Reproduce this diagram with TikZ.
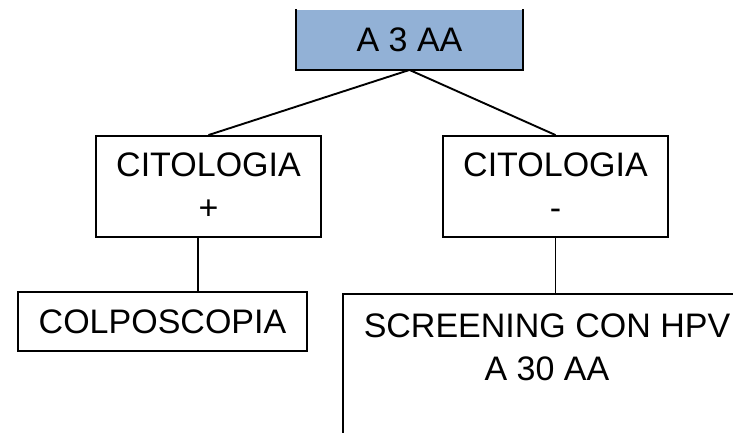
\documentclass[tikz,border=0pt]{standalone}
\usepackage{fontspec}
\setmainfont{Liberation Sans}
\usepackage{xcolor}
\usetikzlibrary{positioning}
\definecolor{topblue}{HTML}{92B1D6}

\begin{document}
\begin{tikzpicture}[x=1pt, y=-1pt,
  box/.style={draw, line width=1.9pt, inner sep=0pt, align=center, font=\fontsize{34}{43}\selectfont},
  boxtext/.style={inner sep=0pt, align=center, font=\fontsize{34}{43}\selectfont},
  link/.style={line width=1.9pt}]
\useasboundingbox (0,0) rectangle (733,433);
\clip (0,0) rectangle (733,433);

\node[box, draw=none, fill=topblue, minimum width=225pt, minimum height=59pt] (top) at (409.5,39.5) {A 3 AA};
\draw[link] (top.north west) |- (top.south east) -- (top.north east);

\node[box, minimum width=225pt, minimum height=101pt] (citpos) at (208.5,186.5) {CITOLOGIA\\+};
\node[box, minimum width=225pt, minimum height=101pt] (citneg) at (555.5,186.5) {CITOLOGIA\\-};

\node[box, minimum width=289pt, minimum height=59pt] (colpo) at (162.5,321.5) {COLPOSCOPIA};
\node[box, minimum width=408pt, minimum height=200pt, anchor=north] (hpv) at (547,293) {};
\node[boxtext, below=21pt of hpv.north] (hpvtext) {SCREENING CON HPV\\A 30 AA};

\draw[link] (top.south) -- (citpos.north);
\draw[link] (top.south) -- (citneg.north);
\draw[link] ([xshift=-10.5pt]citpos.south) -- ([xshift=-10.5pt]citpos.south |- colpo.north);
\draw[link] (citneg.south) -- (citneg.south |- hpv.north);
\end{tikzpicture}
\end{document}
